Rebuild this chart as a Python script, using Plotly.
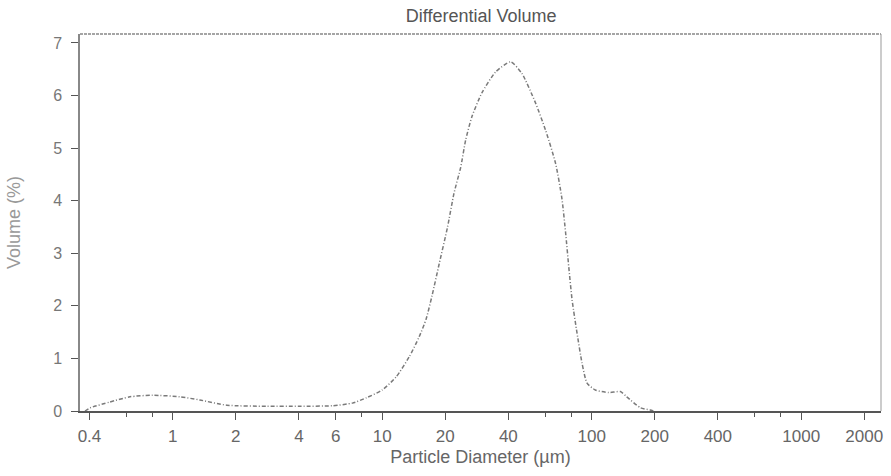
import plotly.graph_objects as go

# Particle diameter (µm) and differential volume (%)
diameter = [0.381, 0.403, 0.50, 0.624, 0.803, 1.08, 1.345, 1.81, 2.80, 4.02, 5.78, 7.2, 8.39,
            10.0, 11.66, 13.45, 15.0, 16.2, 17.3, 18.7, 20.5, 22.0, 23.7, 25.0, 26.8,
            29.9, 34.8, 41.0, 46.4, 53.9, 60.2, 67.2, 72.0, 75.0, 77.7, 80.6, 85.1, 89.9,
            95.0, 104, 120.5, 137, 147, 171, 190, 197]
volume = [0.0, 0.06, 0.17, 0.27, 0.30, 0.27, 0.21, 0.11, 0.09, 0.09, 0.10, 0.15, 0.25,
          0.40, 0.65, 1.03, 1.41, 1.75, 2.2, 2.8, 3.5, 4.14, 4.64, 5.15, 5.6,
          6.05, 6.45, 6.64, 6.42, 5.86, 5.34, 4.71, 4.05, 3.4, 2.74, 2.11, 1.48, 0.91,
          0.53, 0.40, 0.35, 0.37, 0.27, 0.06, 0.02, 0.0]

x_tickvals = [0.4, 1, 2, 4, 6, 10, 20, 40, 100, 200, 400, 1000, 2000]
x_ticktext = ["0.4", "1", "2", "4", "6", "10", "20", "40", "100", "200", "400", "1000", "2000"]
x_minor = [0.6, 0.8, 8, 60, 80, 600, 800]
y_tickvals = [0, 1, 2, 3, 4, 5, 6, 7]

fig = go.Figure()
fig.add_trace(go.Scatter(
    x=diameter, y=volume, mode="lines",
    line=dict(color="#7a7a7a", width=1.5, dash="4px,2px,1px,2px", shape="spline", smoothing=0.6),
    showlegend=False, hoverinfo="skip",
))

font_family = "Liberation Sans, Arial, sans-serif"
fig.update_layout(
    width=891, height=476,
    margin=dict(l=80, r=8, t=34, b=65),
    paper_bgcolor="white", plot_bgcolor="white",
    font=dict(family=font_family, size=16, color="#666"),
    title=dict(text="Differential Volume", x=0.54, xanchor="center", y=0.966, yanchor="middle",
               font=dict(size=18, color="#555")),
    xaxis=dict(
        type="log", range=[-0.443, 3.381],
        tickvals=x_tickvals, ticktext=x_ticktext,
        ticks="outside", ticklen=7, tickwidth=1, tickcolor="#555",
        minor=dict(tickvals=x_minor, ticks="outside", ticklen=4, tickcolor="#555"),
        showline=True, linecolor="#555", linewidth=1.5,
        showgrid=False, zeroline=False,
        tickfont=dict(size=17, color="#666"),
        ticklabelstandoff=2,
        title=dict(text="Particle Diameter (µm)", font=dict(size=18, color="#666"), standoff=5),
    ),
    yaxis=dict(
        range=[0, 7.17],
        tickvals=y_tickvals,
        ticks="outside", ticklen=7, tickwidth=1, tickcolor="#555",
        showline=True, linecolor="#888", linewidth=1.5,
        showgrid=False, zeroline=False,
        tickfont=dict(size=16, color="#777"),
        ticklabelstandoff=6,
        title=dict(text="Volume (%)", font=dict(size=18, color="#999"), standoff=28),
    ),
    shapes=[
        dict(type="line", xref="paper", yref="paper", x0=0, x1=1, y0=1, y1=1,
             line=dict(color="#888", width=1.5, dash="3px,1px")),
        dict(type="line", xref="paper", yref="paper", x0=1, x1=1, y0=0, y1=1,
             line=dict(color="#999", width=1)),
    ],
)

fig.write_html("out.html")
